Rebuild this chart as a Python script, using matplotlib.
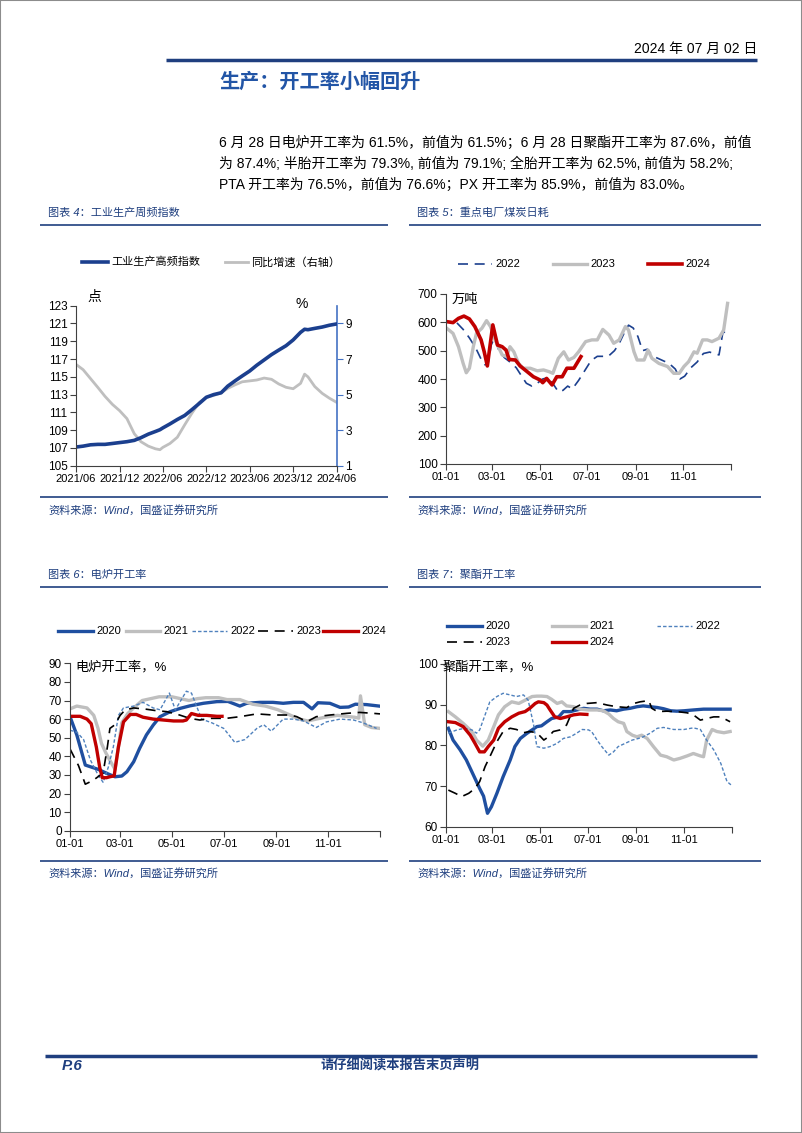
"""
国盛证券周报第6页：生产开工率四张小图
"""

import pandas as pd
import matplotlib
matplotlib.use('Agg')
import matplotlib.pyplot as plt
import matplotlib.dates as mdates
from matplotlib.lines import Line2D
from matplotlib.patches import Rectangle

plt.rcParams['font.family'] = ['Liberation Sans', 'Noto Sans CJK SC', 'DejaVu Sans']
plt.rcParams['axes.unicode_minus'] = False

# ---------------- 图表4：工业生产周频指数 ----------------
ip_dates = ['2021-06-01', '2021-07-01', '2021-08-01', '2021-09-01', '2021-10-01', '2021-11-01', '2021-12-01',
            '2022-01-01', '2022-02-01', '2022-03-01', '2022-04-01', '2022-05-01', '2022-05-20', '2022-06-01',
            '2022-07-01', '2022-08-01', '2022-09-01', '2022-10-01', '2022-11-01', '2022-12-01',
            '2023-01-01', '2023-02-01', '2023-03-01', '2023-04-01', '2023-05-01', '2023-06-01', '2023-07-01',
            '2023-08-01', '2023-09-01', '2023-10-01', '2023-11-01', '2023-12-01',
            '2024-01-01', '2024-01-18', '2024-02-01', '2024-03-01', '2024-04-01', '2024-05-01', '2024-06-01']
ip_index = [107.1, 107.2, 107.35, 107.4, 107.4, 107.5, 107.6,
            107.7, 107.85, 108.15, 108.55, 108.85, 109.05, 109.25, 109.7, 110.2, 110.65, 111.3, 112.0, 112.7,
            113.0, 113.2, 113.95, 114.55, 115.1, 115.65, 116.3, 116.9, 117.5, 118.0, 118.5, 119.15,
            120.0, 120.35, 120.3, 120.45, 120.6, 120.8, 120.95]
ip_yoy = [6.7, 6.4, 5.9, 5.4, 4.9, 4.45, 4.1,
          3.65, 2.8, 2.35, 2.1, 1.95, 1.9, 2.03, 2.25, 2.6, 3.3, 3.95, 4.55, 4.85,
          4.95, 5.1, 5.35, 5.55, 5.72, 5.77, 5.82, 5.93, 5.86, 5.6, 5.41, 5.33,
          5.63, 6.15, 6.0, 5.45, 5.07, 4.8, 4.56]
ip_ticks = ['2021-06-01', '2021-12-01', '2022-06-01', '2022-12-01', '2023-06-01', '2023-12-01', '2024-06-01']

# ---------------- 图表5：重点电厂煤炭日耗（万吨），横轴为年内第几天 ----------------
coal_2022_day = [14, 22, 30, 38, 45, 50, 54, 58, 62, 68, 75, 82, 90, 97, 103, 110, 117, 124, 131, 138, 144, 150,
                 156, 162, 170, 178, 186, 194, 202, 208, 216, 222, 228, 234, 240, 246, 252, 258, 264, 270, 278,
                 286, 294, 300, 306, 314, 322, 330, 338, 346, 350, 355, 363]
coal_2022 = [598, 575, 545, 510, 470, 450, 455, 520, 545, 500, 475, 460, 440, 410, 385, 375, 385, 400, 405, 380,
             355, 360, 375, 365, 395, 430, 465, 480, 480, 480, 500, 525, 560, 590, 580, 550, 500, 505, 485, 475,
             465, 455, 435, 400, 410, 440, 460, 490, 495, 488, 485, 565, 565]
coal_2023_day = [1, 9, 16, 22, 26, 30, 35, 39, 46, 52, 57, 63, 72, 78, 82, 87, 93, 99, 108, 117, 125, 132, 137,
                 144, 151, 157, 164, 170, 179, 187, 194, 201, 209, 215, 222, 230, 234, 241, 245, 254, 259, 264,
                 273, 284, 292, 299, 305, 311, 318, 322, 329, 335, 341, 350, 356, 361]
coal_2023 = [579, 561, 514, 455, 422, 438, 514, 561, 579, 606, 585, 538, 485, 479, 514, 496, 455, 438, 438, 429,
             432, 426, 420, 473, 496, 467, 476, 496, 532, 538, 538, 575, 555, 526, 538, 585, 573, 496, 467, 467,
             502, 473, 455, 444, 420, 420, 444, 461, 496, 491, 538, 538, 532, 544, 573, 667]
coal_2024_day = [2, 9, 16, 23, 30, 37, 45, 49, 53, 60, 66, 72, 77, 81, 89, 95, 104, 112, 121, 124, 129, 136, 142,
                 149, 155, 164, 173]
coal_2024 = [602, 599, 614, 622, 612, 585, 538, 496, 446, 591, 520, 514, 502, 469, 467, 446, 426, 408, 396, 387,
             402, 379, 408, 408, 438, 438, 479]

# ---------------- 图表6：电炉开工率（%） ----------------
eaf_2020_day = [0, 8, 18, 33, 45, 53, 61, 67, 75, 82, 90, 98, 106, 118, 130, 141, 157, 173, 186, 200, 208, 224,
                239, 251, 263, 275, 285, 292, 306, 318, 328, 336, 349, 364]
eaf_2020 = [61.3, 51.5, 35.3, 33, 30.5, 29, 29.4, 31.7, 37.1, 44.3, 51.5, 56.8, 61.3, 64, 65.8, 67.1, 68.5, 69.4,
            69.5, 67, 68.5, 69, 69, 68.5, 69, 69, 65.5, 68.8, 68.5, 66.3, 66.5, 68, 67.8, 67]
eaf_2021_day = [0, 8, 20, 28, 33, 37, 42, 48, 53, 57, 61, 68, 75, 85, 95, 105, 120, 130, 140, 150, 160, 175, 185,
                200, 215, 230, 245, 260, 270, 280, 290, 300, 315, 325, 335, 340, 342, 347, 355, 365]
eaf_2021 = [65.5, 67, 66, 62, 55, 47, 42, 37, 33, 45, 58, 63, 66, 70, 71, 72, 72, 71, 70, 71, 71.5, 71.5, 70.5,
            70.5, 68, 67, 65, 62, 60, 59, 60, 61, 62, 61.5, 61, 60.5, 72.5, 57, 55.5, 55]
eaf_2022_day = [0, 8, 16, 24, 33, 39, 45, 51, 57, 63, 75, 86, 98, 106, 117, 124, 137, 143, 155, 167, 181, 194,
                206, 220, 228, 237, 251, 263, 275, 290, 302, 318, 334, 345, 361]
eaf_2022 = [54, 53, 49, 38, 30, 26, 34, 45, 62, 66, 67, 69, 66, 65, 74, 65, 75, 74, 60, 58, 55, 47.5, 49, 55, 57,
            53.5, 60, 60, 59, 55.5, 58.5, 60, 59.5, 58, 55]
eaf_2023_day = [0, 10, 18, 27, 39, 44, 47, 53, 59, 65, 75, 90, 102, 114, 129, 141, 153, 165, 184, 200, 220, 239,
                259, 267, 279, 290, 306, 326, 341, 357, 365]
eaf_2023 = [44, 35, 25, 27, 31, 45, 55, 57, 62, 65, 66, 65.3, 64.5, 64, 62.2, 60.4, 59.5, 60.4, 60.4, 61.3, 62.8,
            62.2, 62.2, 61.3, 58.6, 61.3, 62.2, 63.1, 63.6, 63.1, 62.8]
eaf_2024_day = [3, 12, 20, 25, 31, 35, 38, 43, 47, 52, 57, 63, 71, 78, 86, 98, 110, 122, 133, 137, 143, 151, 161,
                173, 179]
eaf_2024 = [61.5, 61.5, 60, 57.5, 45, 34, 28.5, 28.5, 29, 29.5, 45, 58.5, 62.5, 62.5, 61, 60, 59.5, 59, 59, 59.5,
            63, 62, 62, 61.5, 61.5]

# ---------------- 图表7：聚酯开工率（%） ----------------
pet_2020_day = [3, 9, 18, 26, 35, 43, 48, 53, 58, 65, 73, 82, 88, 95, 103, 110, 116, 122, 129, 135, 144, 150, 159,
                167, 176, 184, 193, 201, 210, 218, 227, 235, 244, 252, 261, 270, 278, 287, 295, 304, 316, 329,
                346, 363]
pet_2020 = [84.2, 81.3, 78.9, 76.4, 72.7, 69.4, 67.5, 63.3, 64.9, 68.2, 72.3, 76.4, 79.7, 81.7, 82.9, 83.8, 84.6,
            84.8, 85.8, 86.6, 87.0, 88.3, 88.3, 88.7, 89.1, 88.9, 88.9, 88.5, 88.7, 88.5, 88.9, 89.1, 89.5, 89.7,
            89.5, 89.3, 89, 88.5, 88.4, 88.5, 88.7, 88.9, 88.9, 88.9]
pet_2021_day = [3, 12, 22, 33, 39, 47, 54, 61, 67, 75, 84, 93, 101, 110, 116, 122, 129, 135, 142, 148, 154, 163,
                171, 182, 193, 201, 208, 214, 220, 227, 231, 238, 244, 250, 257, 265, 274, 282, 291, 299, 308,
                316, 325, 329, 333, 340, 346, 355, 363]
pet_2021 = [88.3, 87.0, 85.4, 83.4, 81.3, 79.8, 81.3, 84.6, 87.5, 89.5, 90.7, 90.3, 91.1, 92, 92.1, 92.1, 92,
            91.3, 90.3, 90.7, 89.7, 89.5, 88.9, 88.7, 88.7, 88.5, 87.7, 86.6, 85.8, 85.4, 83.4, 82.5, 82.1, 82.5,
            81.7, 79.7, 77.6, 77.2, 76.4, 76.8, 77.4, 78, 77.4, 77.2, 81.3, 83.9, 83.4, 83.1, 83.4]
pet_2022_day = [3, 14, 24, 33, 39, 43, 49, 56, 65, 73, 82, 90, 99, 105, 112, 116, 125, 133, 142, 150, 159, 167,
                174, 182, 186, 193, 199, 208, 214, 220, 229, 238, 246, 252, 261, 270, 278, 291, 304, 316, 325,
                333, 342, 351, 359, 364]
pet_2022 = [83, 83.8, 84.2, 83.8, 83, 83.8, 87, 90.7, 92, 92.8, 92.4, 92, 92.4, 91.1, 85, 79.7, 79.3, 79.7, 80.5,
            81.7, 82.1, 83, 83.9, 83.8, 83.4, 81.3, 79.7, 77.6, 78.4, 79.7, 80.5, 81.3, 81.7, 82.1, 83, 84.2, 84.4,
            83.9, 83.9, 84.3, 83.9, 81.3, 78.9, 75.6, 71.1, 70.3]
pet_2023_day = [3, 12, 20, 29, 37, 43, 50, 56, 65, 73, 82, 90, 99, 107, 116, 125, 131, 137, 146, 154, 163, 171,
                180, 193, 206, 218, 231, 240, 248, 259, 263, 270, 282, 295, 308, 316, 325, 333, 342, 351, 363]
pet_2023 = [69, 68.2, 67.4, 68.2, 69.4, 71.1, 74.8, 77.2, 80.9, 83.4, 84.2, 83.9, 83.1, 83.4, 83.1, 81.3, 82.1,
            83.4, 83.8, 85, 89.1, 89.9, 90.3, 90.5, 89.9, 89.5, 89.3, 90.3, 90.7, 91, 89.1, 88.3, 88.4, 88.3, 88,
            87.5, 86.2, 86.6, 87, 87, 85.8]
pet_2024_day = [3, 12, 22, 31, 37, 43, 49, 54, 61, 67, 75, 84, 93, 101, 107, 114, 118, 125, 129, 133, 139, 146,
                154, 163, 171, 180]
pet_2024 = [85.8, 85.6, 84.6, 82.5, 80.5, 78.4, 78.4, 79.7, 81.3, 84.2, 85.8, 87, 87.9, 88.3, 89.1, 90.3, 90.7,
            90.5, 89.9, 88.7, 87, 86.6, 87, 87.5, 87.7, 87.6]

md_labels = ['01-01', '03-01', '05-01', '07-01', '09-01', '11-01', '']

# ---------------- 样式 ----------------
W, H = 802, 1133
NAVY = '#1B3F8E'
BLUE = '#1F4FA0'
GRAY = '#BFBFBF'
RED = '#C00000'
LBLUE = '#4F81BD'
HDR = '#1F3F7F'
AXIS = '#404040'

fig = plt.figure(figsize=(W / 100, H / 100), dpi=100)


def fx(x):
    return x / W


def fy(y):
    return 1 - y / H


def add_ax(l, t, r, b):
    return fig.add_axes([l / W, 1 - b / H, (r - l) / W, (b - t) / H])


def hline(x0, x1, y, lw, color=HDR):
    fig.add_artist(Line2D([fx(x0), fx(x1)], [fy(y), fy(y)], transform=fig.transFigure,
                          lw=lw, color=color, solid_capstyle='butt'))


def legend_item(x0, x1, y, label, **style):
    fig.add_artist(Line2D([fx(x0), fx(x1)], [fy(y), fy(y)], transform=fig.transFigure, **style))
    fig.text(fx(x1 + 3.5), fy(y), label, fontsize=8, va='center', ha='left')


def style_ax(ax):
    for s in ['top', 'right']:
        ax.spines[s].set_visible(False)
    for s in ['left', 'bottom']:
        ax.spines[s].set_color(AXIS)
        ax.spines[s].set_linewidth(0.8)
    ax.tick_params(direction='out', length=4, width=0.8, color=AXIS, labelsize=8.5, pad=2)
    ax.tick_params(axis='x', labelsize=8)


def md_axis(ax):
    # 横轴：1月1日起的天数，刻度放在单月月初
    ticks = [pd.Timestamp(f'2023-{m:02d}-01').dayofyear - 1 for m in (1, 3, 5, 7, 9, 11)] + [365]
    ax.set_xlim(0, 365)
    ax.set_xticks(ticks)
    ax.set_xticklabels(md_labels)


# 页面边框
fig.add_artist(Rectangle((0, 0), 1, 1, transform=fig.transFigure, fill=False, edgecolor='#8C8C8C', lw=1.5))

# 页眉
fig.text(fx(757), fy(49), '2024 年 07 月 02 日', ha='right', va='center', fontsize=10)
hline(166, 757, 59.5, 2.5)
fig.text(fx(219), fy(82), '生产：开工率小幅回升', fontsize=14.5, fontweight='bold', color='#2255A6', va='center')

para = ['6 月 28 日电炉开工率为 61.5%，前值为 61.5%；6 月 28 日聚酯开工率为 87.6%，前值',
        '为 87.4%; 半胎开工率为 79.3%, 前值为 79.1%; 全胎开工率为 62.5%, 前值为 58.2%;',
        'PTA 开工率为 76.5%，前值为 76.6%；PX 开工率为 85.9%，前值为 83.0%。']
for i, line in enumerate(para):
    fig.text(fx(219), fy(143 + i * 21), line, fontsize=10, va='center')

# 小标题和来源
for x0, x1, title in [(40, 388, '图表 4：工业生产周频指数'), (409, 761, '图表 5：重点电厂煤炭日耗')]:
    fig.text(fx(x0 + 8), fy(213), title, fontsize=8, style='italic', color=HDR, va='center')
    hline(x0, x1, 225, 1.2)
    hline(x0, x1, 497.5, 1.2)
    fig.text(fx(x0 + 8), fy(510.5), '资料来源：Wind，国盛证券研究所', fontsize=8, style='italic', color=HDR, va='center')
for x0, x1, title in [(40, 388, '图表 6：电炉开工率'), (409, 761, '图表 7：聚酯开工率')]:
    fig.text(fx(x0 + 8), fy(575), title, fontsize=8, style='italic', color=HDR, va='center')
    hline(x0, x1, 587.3, 1.2)
    hline(x0, x1, 861, 1.2)
    fig.text(fx(x0 + 8), fy(873.3), '资料来源：Wind，国盛证券研究所', fontsize=8, style='italic', color=HDR, va='center')

# ---------------- 图表4 ----------------
ax4 = add_ax(76, 305.7, 336.7, 465.7)
ax4r = ax4.twinx()
d4 = pd.to_datetime(ip_dates)
ax4.plot(d4, ip_index, color=NAVY, lw=2.6, solid_capstyle='round')
ax4r.plot(d4, ip_yoy, color=GRAY, lw=2.0)
ax4.set_zorder(ax4r.get_zorder() + 1)
ax4.patch.set_visible(False)
style_ax(ax4)
ax4.set_ylim(105, 123)
ax4.set_yticks(range(105, 124, 2))
ax4.set_xlim(pd.Timestamp(ip_ticks[0]), pd.Timestamp(ip_ticks[-1]))
ax4.set_xticks(mdates.date2num(pd.to_datetime(ip_ticks)))
ax4.set_xticklabels([pd.Timestamp(t).strftime('%Y/%m') for t in ip_ticks])
for s in ['top', 'left', 'bottom']:
    ax4r.spines[s].set_visible(False)
ax4r.spines['right'].set_color('#4472C4')
ax4r.spines['right'].set_linewidth(1.2)
ax4r.set_ylim(1, 10)
ax4r.set_yticks([1, 3, 5, 7, 9])
ax4r.tick_params(direction='out', length=4, width=0.8, color='#4472C4', labelsize=8.5, pad=2)
fig.text(fx(94), fy(297), '点', fontsize=10, ha='center', va='center')
fig.text(fx(302), fy(304), '%', fontsize=10, ha='center', va='center')
legend_item(82, 108, 262, '工业生产高频指数', color=NAVY, lw=2.6)
legend_item(225, 248, 262, '同比增速（右轴）', color=GRAY, lw=2.0)

# ---------------- 图表5 ----------------
ax5 = add_ax(446, 294, 730.7, 464)
ax5.plot(coal_2022_day, coal_2022, color=NAVY, lw=1.2, ls=(0, (6, 4)))
ax5.plot(coal_2023_day, coal_2023, color=GRAY, lw=2.4)
ax5.plot(coal_2024_day, coal_2024, color=RED, lw=2.6)
style_ax(ax5)
ax5.set_ylim(100, 700)
ax5.set_yticks(range(100, 701, 100))
md_axis(ax5)
fig.text(fx(452), fy(300), '万吨', fontsize=9.5, va='center')
legend_item(458, 491.7, 264, '2022', color=NAVY, lw=1.2, ls=(0, (6, 4)))
legend_item(553, 586.7, 264, '2023', color=GRAY, lw=2.4)
legend_item(648, 681.7, 264, '2024', color=RED, lw=2.6)

# ---------------- 图表6 ----------------
ax6 = add_ax(70, 663.3, 380, 830.7)
ax6.plot(eaf_2020_day, eaf_2020, color=BLUE, lw=2.4)
ax6.plot(eaf_2021_day, eaf_2021, color=GRAY, lw=2.4)
ax6.plot(eaf_2022_day, eaf_2022, color=LBLUE, lw=1.0, ls=(0, (2.5, 1.5)))
ax6.plot(eaf_2023_day, eaf_2023, color='black', lw=1.2, ls=(0, (6, 4)))
ax6.plot(eaf_2024_day, eaf_2024, color=RED, lw=2.4)
style_ax(ax6)
ax6.set_ylim(0, 90)
ax6.set_yticks(range(0, 91, 10))
md_axis(ax6)
fig.text(fx(75), fy(667), '电炉开工率，%', fontsize=9.5, va='center')
legend_item(58.3, 93.3, 630.7, '2020', color=BLUE, lw=2.4)
legend_item(126, 160, 630.7, '2021', color=GRAY, lw=2.4)
legend_item(191.7, 226.7, 630.7, '2022', color=LBLUE, lw=1.0, ls=(0, (2.5, 1.5)))
legend_item(257.7, 293.3, 630.7, '2023', color='black', lw=1.2, ls=(0, (6, 4)))
legend_item(323, 358, 630.7, '2024', color=RED, lw=2.4)

# ---------------- 图表7 ----------------
ax7 = add_ax(446, 664, 731.7, 826.7)
ax7.plot(pet_2020_day, pet_2020, color=BLUE, lw=2.4)
ax7.plot(pet_2021_day, pet_2021, color=GRAY, lw=2.4)
ax7.plot(pet_2022_day, pet_2022, color=LBLUE, lw=1.0, ls=(0, (2.5, 1.5)))
ax7.plot(pet_2023_day, pet_2023, color='black', lw=1.2, ls=(0, (6, 4)))
ax7.plot(pet_2024_day, pet_2024, color=RED, lw=2.4)
style_ax(ax7)
ax7.set_ylim(60, 100)
ax7.set_yticks(range(60, 101, 10))
md_axis(ax7)
fig.text(fx(443), fy(667), '聚酯开工率，%', fontsize=9.5, va='center')
legend_item(446.7, 481.7, 625.7, '2020', color=BLUE, lw=2.4)
legend_item(551.7, 586, 625.7, '2021', color=GRAY, lw=2.4)
legend_item(656.7, 691.7, 625.7, '2022', color=LBLUE, lw=1.0, ls=(0, (2.5, 1.5)))
legend_item(446.7, 481.7, 642, '2023', color='black', lw=1.2, ls=(0, (6, 4)))
legend_item(551.7, 586, 642, '2024', color=RED, lw=2.4)

# 页脚
hline(45, 757, 1056, 2.5)
fig.text(fx(62), fy(1066), 'P.6', fontsize=11, fontweight='bold', style='italic', color=HDR, va='center')
fig.text(fx(400), fy(1066), '请仔细阅读本报告末页声明', fontsize=9.5, fontweight='bold', style='italic',
         color=HDR, ha='center', va='center')

fig.savefig('out.png', dpi=100)
